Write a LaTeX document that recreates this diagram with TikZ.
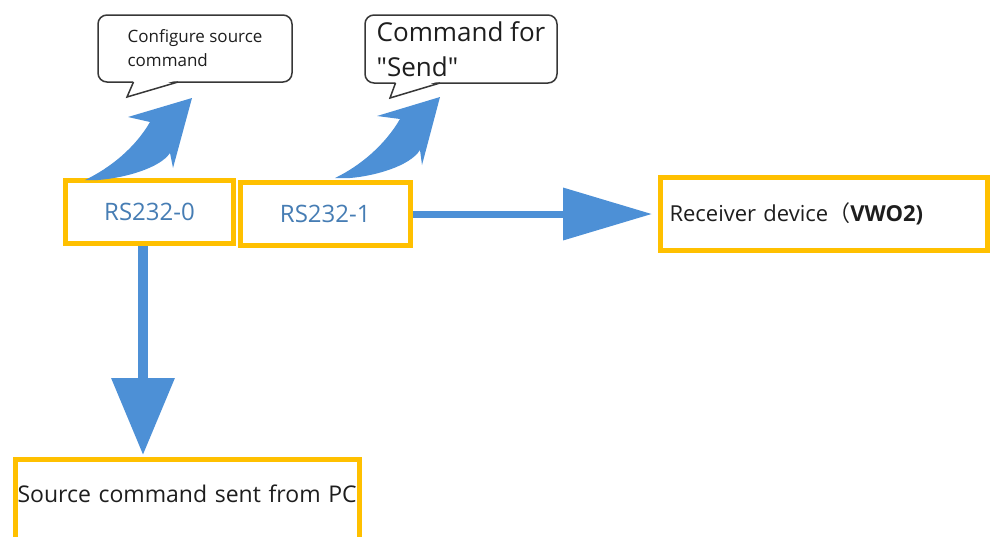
\documentclass[tikz,border=0pt]{standalone}
\usepackage{fontspec}
\setmainfont{Open Sans}
\newfontfamily\plainfont[Ligatures=TeXOff]{Open Sans}
\newfontfamily\cjk{Noto Sans CJK SC}
\usetikzlibrary{arrows.meta}
\definecolor{boxorange}{RGB}{255,192,0}
\definecolor{arrowblue}{RGB}{77,144,214}
\definecolor{labelblue}{RGB}{70,125,180}
\definecolor{calloutline}{RGB}{55,55,55}
\definecolor{textdark}{RGB}{30,30,30}
\newcommand{\fsz}[2]{\fontsize{#1}{#2}\selectfont}
\tikzset{
  portbox/.style={draw=boxorange, line width=5pt, fill=white, inner sep=0pt,
    text=labelblue, font=\fsz{24}{28}},
  devbox/.style={draw=boxorange, line width=5pt, fill=white, inner sep=0pt,
    text=textdark, align=left},
  callout/.style={draw=calloutline, line width=1.5pt, fill=white,
    rounded corners=9pt, inner sep=0pt, text=textdark, align=left},
  tail/.style={draw=calloutline, line width=1.5pt, line join=miter},
  fatarrow/.style={draw=arrowblue, line cap=butt},
  fatfill/.style={fill=arrowblue}
}
\begin{document}
\begin{tikzpicture}[x=1pt,y=-1pt]
\useasboundingbox (0,0) rectangle (990,536);
\clip (0,0) rectangle (990,536);

% port boxes
\node[portbox, minimum width=168pt, minimum height=63pt] (r0) at (149.5,212) {RS232-0};
\node[portbox, minimum width=170.5pt, minimum height=63pt] (r1) at (325.25,214) {RS232-1};

% receiver
\node[devbox, minimum width=327pt, minimum height=73pt, text width=309pt,
      inner xsep=9pt, font=\fsz{22}{26}] (recv) at (824,214)
      {Receiver device{\cjk （}\textbf{VWO2)}};

% source
\node[devbox, minimum width=344pt, minimum height=85.5pt, text width=340pt,
      inner xsep=2pt, text height=12pt, text depth=12pt, font=\fsz{23}{28}] (src) at (187.5,502.25)
      {Source command sent from PC};

% callouts
\node[callout, minimum width=194pt, minimum height=67pt, font=\fsz{17}{24}] (c1) at (195,48.5)
      {Configure source\\command};
\fill[white] (134,80) -- (127,96) -- (177,80) -- cycle;
\draw[tail] (133.5,82) -- (127,97) -- (178,82);

\node[callout, minimum width=192pt, minimum height=68pt, font=\plainfont\fsz{26}{35}] (c2) at (461,49)
      {Command for\\"Send"};
\fill[white] (396,81) -- (391,97) -- (439,81) -- cycle;
\draw[tail] (395.5,83) -- (390,98) -- (440,83);

% curved fat arrows
\fill[fatfill] (85,180) .. controls (110,168) and (135,148) .. (150,122)
  -- (128,117) -- (192,98) -- (173,168) -- (170,153)
  .. controls (160,168) and (125,178) .. (98,180) -- cycle;
\fill[fatfill] (335,178) .. controls (360,166) and (385,145) .. (400,119)
  -- (377,116) -- (440,97) -- (422,165) -- (420,150)
  .. controls (410,166) and (375,176) .. (350,178) -- cycle;

% straight fat arrows
\draw[fatarrow, line width=7pt, -{Triangle[length=89pt,width=51pt]}, shorten >=6pt]
  (r1.east) -- (recv.west);
\coordinate (vx) at (143,0);
\draw[fatarrow, line width=10pt, -{Triangle[length=77pt,width=61pt]}, shorten >=2pt]
  (r0.south -| vx) -- (src.north -| vx);
\end{tikzpicture}
\end{document}
